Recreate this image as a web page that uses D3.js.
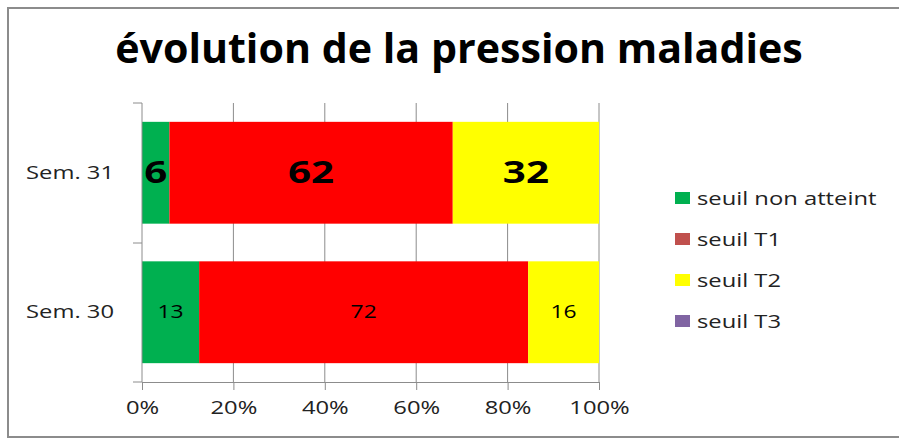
<!DOCTYPE html>
<meta charset="utf-8">
<script src="https://d3js.org/d3.v7.js"></script>
<style>
  body { margin: 0; background: #fff; }
  text { font-family: "Open Sans", "Noto Sans", sans-serif; }
</style>
<svg id="chart" width="899" height="439"></svg>
<script>

// data
const weeks = ["Sem. 31", "Sem. 30"];
const seriesNames = ["seuil non atteint", "seuil T1", "seuil T2", "seuil T3"];
const nonAtteint = [6, 12.5];
const t1 = [62, 72];
const t2 = [32, 15.5];
const t3 = [0, 0];
const xTicks = [0, 20, 40, 60, 80, 100];

const barColors = ["#00B050", "#FF0000", "#FFFF00", "#8064A2"];
const legendColors = ["#00B050", "#C0504D", "#FFFF00", "#8064A2"];

// the original text is a bit wider than the font we have
const stretch = 1.25;

const svg = d3.select("#chart");

// outer frame
svg.append("rect")
  .attr("x", 8).attr("y", 8).attr("width", 900).attr("height", 429)
  .attr("fill", "none").attr("stroke", "#8c8c8c").attr("stroke-width", 2);

// title
const title = svg.append("text")
  .attr("x", 459).attr("y", 63)
  .attr("text-anchor", "middle")
  .style("font-weight", "bold")
  .style("font-size", "34px")
  .text("évolution de la pression maladies");
const tw = title.node().getComputedTextLength();
title.style("font-size", (34 * 688 / tw) + "px");

const x = d3.scaleLinear().domain([0, 100]).range([142, 599]);
const y = d3.scaleBand().domain(weeks).range([103, 382]).paddingInner(0.27).paddingOuter(0.135);

// gridlines
svg.append("g")
  .selectAll("line")
  .data(xTicks.slice(1))
  .join("line")
    .attr("x1", d => x(d)).attr("x2", d => x(d))
    .attr("y1", 103).attr("y2", 382)
    .attr("stroke", "#8c8c8c").attr("stroke-width", 1);

// stacked bars
const rows = weeks.map((w, i) => ({
  week: w,
  "seuil non atteint": nonAtteint[i],
  "seuil T1": t1[i],
  "seuil T2": t2[i],
  "seuil T3": t3[i]
}));
const stacked = d3.stack().keys(seriesNames)(rows);

stacked.forEach((layer, k) => {
  svg.append("g")
    .selectAll("rect")
    .data(layer)
    .join("rect")
      .attr("x", d => x(d[0]))
      .attr("width", d => x(d[1]) - x(d[0]))
      .attr("y", d => y(d.data.week))
      .attr("height", y.bandwidth())
      .attr("fill", barColors[k]);

  svg.append("g")
    .selectAll("text")
    .data(layer.filter(d => d[1] - d[0] > 0))
    .join("text")
      .attr("transform", d => {
        const big = d.data.week === "Sem. 31";
        return `translate(${(x(d[0]) + x(d[1])) / 2},${y(d.data.week) + y.bandwidth() / 2 + (big ? 10 : 6)}) scale(${big ? 1.3 : 1.2},1)`;
      })
      .attr("text-anchor", "middle")
      .style("font-weight", d => d.data.week === "Sem. 31" ? "bold" : "normal")
      .style("font-size", d => d.data.week === "Sem. 31" ? "31px" : "19px")
      .attr("fill", "#000")
      .text(d => Math.round(d[1] - d[0]));
});

// axes
const xAxis = svg.append("g")
  .attr("transform", "translate(0,382)")
  .call(d3.axisBottom(x).tickValues(xTicks).tickFormat(d => d + "%").tickSize(8).tickPadding(11));
xAxis.select(".domain").attr("stroke", "#8c8c8c");
xAxis.selectAll(".tick line").attr("stroke", "#8c8c8c");
xAxis.selectAll("text")
  .attr("transform", `scale(${stretch},1)`)
  .style("font-size", "19px")
  .style("font-family", "'Open Sans', sans-serif")
  .attr("fill", "#222");

const yEdges = [103, 243, 382];
const yAxis = svg.append("g");
yAxis.append("line")
  .attr("x1", 142).attr("x2", 142).attr("y1", 103).attr("y2", 382)
  .attr("stroke", "#8c8c8c");
yAxis.selectAll("line.tk")
  .data(yEdges)
  .join("line")
    .attr("class", "tk")
    .attr("x1", 133).attr("x2", 142)
    .attr("y1", d => d).attr("y2", d => d)
    .attr("stroke", "#8c8c8c");
yAxis.selectAll("text")
  .data(weeks)
  .join("text")
    .attr("transform", d => `translate(114,${y(d) + y.bandwidth() / 2 + 6}) scale(${stretch},1)`)
    .attr("text-anchor", "end")
    .style("font-size", "19px")
    .attr("fill", "#222")
    .text(d => d);

// legend
const legend = svg.append("g")
  .selectAll("g")
  .data(seriesNames)
  .join("g")
    .attr("transform", (d, i) => `translate(675,${198 + i * 41})`);
legend.append("rect")
  .attr("x", 0).attr("y", -6).attr("width", 15).attr("height", 12)
  .attr("fill", (d, i) => legendColors[i]);
legend.append("text")
  .attr("transform", `translate(22,7) scale(${stretch},1)`)
  .style("font-size", "19px")
  .attr("fill", "#222")
  .text(d => d);

</script>
